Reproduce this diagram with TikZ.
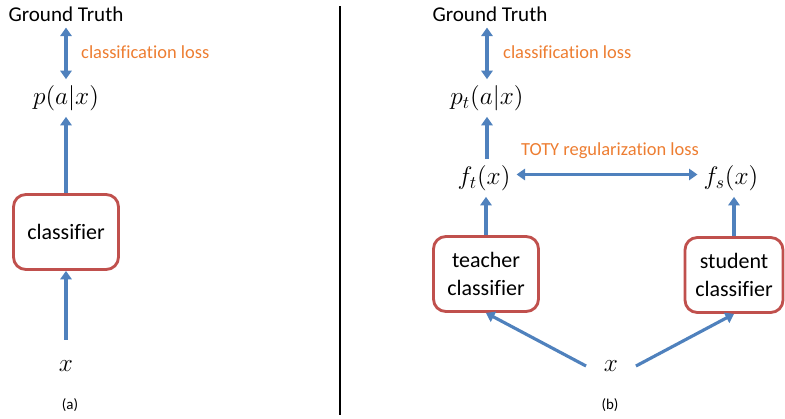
\documentclass[tikz,border=0pt]{standalone}
\usepackage{fontspec}
\setmainfont{Carlito}[Ligatures=NoCommon]
\usetikzlibrary{positioning, arrows.meta}
\definecolor{Office_Blue}{HTML}{4F81BD}
\definecolor{Office_Red}{HTML}{C0504D}
\definecolor{Loss_Orange}{HTML}{ED7D31}

\begin{document}
\begin{tikzpicture}[x=0.02cm, y=-0.02cm,
  every node/.style={font=\fontsize{12}{14}\selectfont},
  clfbox/.style={draw=Office_Red, line width=1.6pt, rounded corners=7pt,
    fill=white, minimum height=1.5cm, align=center,
    font=\fontsize{12.5}{15.5}\selectfont},
  mathlbl/.style={font=\fontsize{14.5}{16}\selectfont},
  losslbl/.style={text=Loss_Orange, font=\fontsize{10.5}{12}\selectfont},
  caplbl/.style={font=\fontsize{8.5}{10}\selectfont},
  arr/.style={-{Triangle[length=4.8pt, width=6.4pt]}, line width=1.8pt, Office_Blue},
  dblarr/.style={{Triangle[length=4.8pt, width=6.4pt]}-{Triangle[length=4.8pt, width=6.4pt]},
    line width=1.8pt, Office_Blue}
]
  \useasboundingbox (0,0) rectangle (785,419);

  % Panel (a)
  \node (gtA) at (66,14) {Ground Truth};
  \node[mathlbl] (pA) at (66,98) {$p(a|x)$};
  \node[losslbl, anchor=west] (lossA) at (75,52) {classification loss};
  \node[clfbox, minimum width=2.1cm] (clfA) at (66,232) {classifier};
  \node[mathlbl, minimum height=1.04cm] (xA) at (66,366) {$x$};
  \node[caplbl] (capA) at (70,405) {(a)};

  \draw[dblarr] (gtA.south) -- (pA.north);
  \draw[arr] (clfA.north) -- (pA.south);
  \draw[arr] (xA.north) -- (clfA.south);

  % Divider
  \draw[line width=1.7pt] (340,6) -- (340,415);

  % Panel (b)
  \node (gtB) at (490,14) {Ground Truth};
  \node[mathlbl] (pB) at (487,98) {$p_t(a|x)$};
  \node[losslbl, anchor=west] (lossB) at (497,52) {classification loss};
  \node[mathlbl] (ft) at (484,178) {$f_t(x)$};
  \node[mathlbl] (fs) at (731,178) {$f_s(x)$};
  \node[losslbl] (toty) at (610,151) {TOTY regularization loss};
  \node[clfbox, minimum width=2.1cm] (teacher) at (486,274) {teacher\\classifier};
  \node[clfbox, minimum width=1.96cm] (student) at (734,275) {student\\classifier};
  \node[mathlbl, inner xsep=10pt] (xB) at (611,366) {$x$};
  \node[caplbl] (capB) at (610,405) {(b)};

  \draw[dblarr] (gtB.south -| pB) -- (pB.north);
  \draw[arr] (ft.north -| pB) -- (pB.south);
  \draw[dblarr] ([yshift=2pt]ft.east) -- ([yshift=2pt]fs.west);
  \draw[arr] (teacher.north) -- (teacher.north |- ft.south);
  \draw[arr] (student.north) -- (student.north |- fs.south);
  \draw[arr] (xB.west) -- (teacher.south);
  \draw[arr] (xB.east) -- (student.south);
\end{tikzpicture}
\end{document}
